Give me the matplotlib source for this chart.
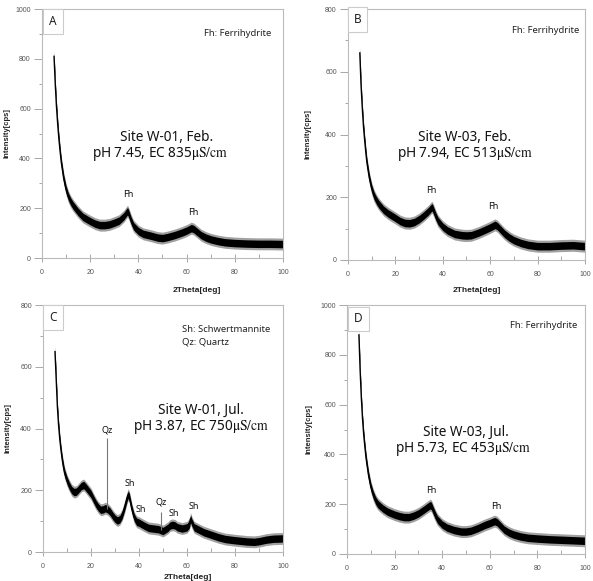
import matplotlib
matplotlib.use("Agg")
import matplotlib.pyplot as plt
from matplotlib.ticker import MultipleLocator

plt.rcParams['mathtext.fontset'] = 'stix'

# --- data ---
two_theta_a = [5, 5.5, 6, 6.5, 7, 7.5, 8, 9, 10, 11, 12, 13, 15, 17, 20, 22, 24, 26, 28, 30, 32, 34, 35, 35.5, 36,
               37, 38, 40, 42, 45, 48, 50, 52, 55, 58, 60, 62, 63, 64, 66, 68, 70, 73, 76, 80, 85, 90, 95, 100]
intensity_a = [810, 700, 610, 540, 480, 430, 385, 320, 275, 245, 225, 210, 185, 165, 148, 138, 132, 132, 135, 142,
               150, 168, 182, 188, 178, 150, 128, 108, 97, 90, 82, 80, 84, 92, 102, 110, 120, 116, 108, 92, 82, 75,
               68, 63, 60, 58, 57, 57, 56]

two_theta_b = [5, 5.5, 6, 6.5, 7, 7.5, 8, 9, 10, 11, 12, 13, 15, 17, 20, 22, 24, 26, 28, 30, 32, 34, 35, 35.5, 36,
               37, 38, 40, 42, 45, 48, 50, 52, 55, 58, 60, 62, 63, 64, 66, 68, 70, 73, 76, 80, 85, 90, 95, 100]
intensity_b = [660, 560, 490, 430, 385, 345, 310, 262, 228, 205, 190, 178, 160, 148, 134, 124, 118, 117, 121, 130,
               142, 156, 165, 168, 160, 140, 124, 106, 94, 83, 79, 78, 79, 87, 97, 104, 112, 108, 100, 84, 72, 63,
               54, 48, 44, 44, 46, 47, 44]

two_theta_c = [5, 5.5, 6, 6.5, 7, 7.5, 8, 8.5, 9, 10, 11, 12, 13, 14, 15, 16, 17, 18, 19, 20, 21, 22, 23, 24, 25,
               26, 27, 28, 29, 30, 31, 32, 33, 34, 35, 35.5, 36, 37, 38, 39, 40, 42, 44, 46, 48, 50, 52, 53, 54,
               55, 56, 58, 60, 61, 61.5, 62, 63, 65, 67, 70, 73, 76, 80, 85, 88, 90, 93, 96, 100]
intensity_c = [649, 560, 470, 410, 365, 330, 300, 276, 256, 232, 214, 200, 194, 196, 205, 214, 217, 208, 198, 188,
               172, 157, 145, 137, 138, 142, 138, 130, 118, 108, 102, 106, 120, 145, 175, 186, 178, 140, 112, 98,
               95, 86, 78, 76, 74, 68, 78, 86, 88, 86, 80, 76, 80, 90, 108, 96, 80, 72, 64, 56, 48, 42, 38, 34,
               33, 35, 40, 43, 44]
quartz_pos_c = [26.8, 49.1]
quartz_top_c = [369, 130]
quartz_base_c = [140, 70]

two_theta_d = [5, 5.5, 6, 6.5, 7, 7.5, 8, 9, 10, 11, 12, 13, 15, 17, 20, 22, 24, 26, 28, 30, 32, 34, 35, 35.5, 36,
               37, 38, 40, 42, 45, 48, 50, 52, 55, 58, 60, 62, 63, 64, 66, 68, 70, 73, 76, 80, 85, 90, 95, 100]
intensity_d = [880, 740, 630, 545, 480, 430, 385, 318, 270, 238, 215, 200, 183, 170, 158, 152, 148, 148, 154, 163,
               176, 190, 196, 192, 180, 157, 138, 118, 106, 96, 90, 90, 93, 104, 117, 124, 132, 128, 118, 98, 86,
               78, 70, 65, 62, 59, 57, 55, 53]

panel_letters = ['A', 'B', 'C', 'D']
site_lines = ['Site W-01, Feb.', 'Site W-03, Feb.', 'Site W-01, Jul.', 'Site W-03, Jul.']
chem_lines = ['pH 7.45, EC 835', 'pH 7.94, EC 513', 'pH 3.87, EC 750', 'pH 5.73, EC 453']
y_max = [1000, 800, 800, 1000]

SPINE = '#bbbbbb'
TICK = '#555555'
SANS = ['Noto Sans', 'DejaVu Sans']


def draw_pattern(ax, x, y, noise):
    lo = [v - noise * 1.6 for v in y]
    hi = [v + noise * 1.6 for v in y]
    ax.fill_between(x, lo, hi, color='#444444', alpha=0.5, lw=0)
    lo = [v - noise for v in y]
    hi = [v + noise for v in y]
    ax.fill_between(x, lo, hi, color='black', lw=0)
    ax.plot(x, y, color='black', lw=1.0)


def style_axes(ax, ymax):
    ax.set_xlim(0, 100)
    ax.set_ylim(0, ymax)
    ax.xaxis.set_major_locator(MultipleLocator(20))
    ax.xaxis.set_minor_locator(MultipleLocator(10))
    ax.yaxis.set_major_locator(MultipleLocator(200))
    ax.yaxis.set_minor_locator(MultipleLocator(100))
    for s in ax.spines.values():
        s.set_color(SPINE)
        s.set_linewidth(0.8)
    ax.tick_params(axis='x', which='major', direction='inout', length=6, width=0.6, color='#999999',
                   labelsize=5, labelcolor=TICK, pad=5)
    ax.tick_params(axis='x', which='minor', direction='in', length=3, width=0.6, color='#999999')
    ax.tick_params(axis='y', which='major', direction='out', length=6, width=0.6, color='#999999',
                   labelsize=5, labelcolor=TICK, pad=2)
    ax.tick_params(axis='y', which='minor', direction='out', length=2.5, width=0.6, color='#999999')
    for lab in ax.get_xticklabels() + ax.get_yticklabels():
        lab.set_family('Liberation Sans')


def panel_letter(ax, letter, fx, fy):
    ax.text(fx, fy, letter, transform=ax.transAxes, ha='center', va='center', fontsize=8.5, family=SANS,
            color='#222222',
            bbox=dict(boxstyle='square,pad=0.5', fc='white', ec='#cccccc', lw=0.8))


fig = plt.figure(figsize=(5.93, 5.81), dpi=100)
ax_a = fig.add_axes([0.0708, 0.5559, 0.4064, 0.4286])
ax_b = fig.add_axes([0.5868, 0.5525, 0.3997, 0.4320])
ax_c = fig.add_axes([0.0725, 0.0499, 0.4047, 0.4251])
ax_d = fig.add_axes([0.5852, 0.0465, 0.4013, 0.4285])
axes = [ax_a, ax_b, ax_c, ax_d]

draw_pattern(ax_a, two_theta_a, intensity_a, 15)
draw_pattern(ax_b, two_theta_b, intensity_b, 12)
draw_pattern(ax_c, two_theta_c, intensity_c, 12)
draw_pattern(ax_d, two_theta_d, intensity_d, 15)
ax_c.vlines(quartz_pos_c, quartz_base_c, quartz_top_c, color='#777777', lw=0.8)

for ax, ymax in zip(axes, y_max):
    style_axes(ax, ymax)
    ax.set_ylabel('Intensity[cps]', fontsize=5.5, fontweight='bold', family='Liberation Sans', color='#222222')

ax_a.yaxis.set_label_coords(-0.129, 0.5)
ax_b.yaxis.set_label_coords(-0.152, 0.5)
ax_c.yaxis.set_label_coords(-0.133, 0.5)
ax_d.yaxis.set_label_coords(-0.147, 0.5)

for ax, xc, yc in [(ax_a, 0.643, -0.116), (ax_b, 0.544, -0.108), (ax_c, 0.604, -0.089)]:
    ax.set_xlabel('2Theta[deg]', fontsize=6, fontweight='bold', family='Liberation Sans', color='#222222')
    ax.xaxis.set_label_coords(xc, yc)

# panel letters
panel_letter(ax_a, panel_letters[0], 0.046, 0.950)
panel_letter(ax_b, panel_letters[1], 0.040, 0.958)
panel_letter(ax_c, panel_letters[2], 0.042, 0.951)
panel_letter(ax_d, panel_letters[3], 0.048, 0.944)

# mineral keys
key_kw = dict(va='center', fontsize=6.8, family=SANS, color='#222222')
ax_a.text(0.95, 0.90, 'Fh: Ferrihydrite', transform=ax_a.transAxes, ha='right', **key_kw)
ax_b.text(0.975, 0.916, 'Fh: Ferrihydrite', transform=ax_b.transAxes, ha='right', **key_kw)
ax_d.text(0.966, 0.916, 'Fh: Ferrihydrite', transform=ax_d.transAxes, ha='right', **key_kw)
ax_c.text(0.579, 0.899, 'Sh: Schwertmannite', transform=ax_c.transAxes, ha='left', **key_kw)
ax_c.text(0.579, 0.850, 'Qz: Quartz', transform=ax_c.transAxes, ha='left', **key_kw)

# site descriptions
site_pos = [(51.9, 486, 49.0, 418), (49.4, 392, 49.4, 338), (65.8, 460, 65.8, 405), (50.0, 490, 48.7, 420)]
for ax, site, chem, (sx, sy, cx, cy) in zip(axes, site_lines, chem_lines, site_pos):
    ax.text(sx, sy, site, ha='center', va='center', fontsize=9.8, family=SANS, color='#111111')
    ax.text(cx, cy, chem + r'$\mathrm{\mu S/cm}$', ha='center', va='center', fontsize=9.8, family=SANS,
            color='#111111')

# peak labels
peak_kw = dict(ha='center', va='center', fontsize=6.5, family=SANS, color='#111111')
ax_a.text(35.7, 257, 'Fh', **peak_kw)
ax_a.text(62.7, 181, 'Fh', **peak_kw)
ax_b.text(35.0, 220, 'Fh', **peak_kw)
ax_b.text(61.2, 172, 'Fh', **peak_kw)
ax_d.text(35.3, 253, 'Fh', **peak_kw)
ax_d.text(62.6, 189, 'Fh', **peak_kw)
ax_c.text(26.7, 395, 'Qz', **peak_kw)
ax_c.text(36.2, 223, 'Sh', **peak_kw)
ax_c.text(40.7, 139, 'Sh', **peak_kw)
ax_c.text(49.1, 162, 'Qz', **peak_kw)
ax_c.text(54.6, 126, 'Sh', **peak_kw)
ax_c.text(62.9, 149, 'Sh', **peak_kw)

fig.savefig('out.png', dpi=100)
